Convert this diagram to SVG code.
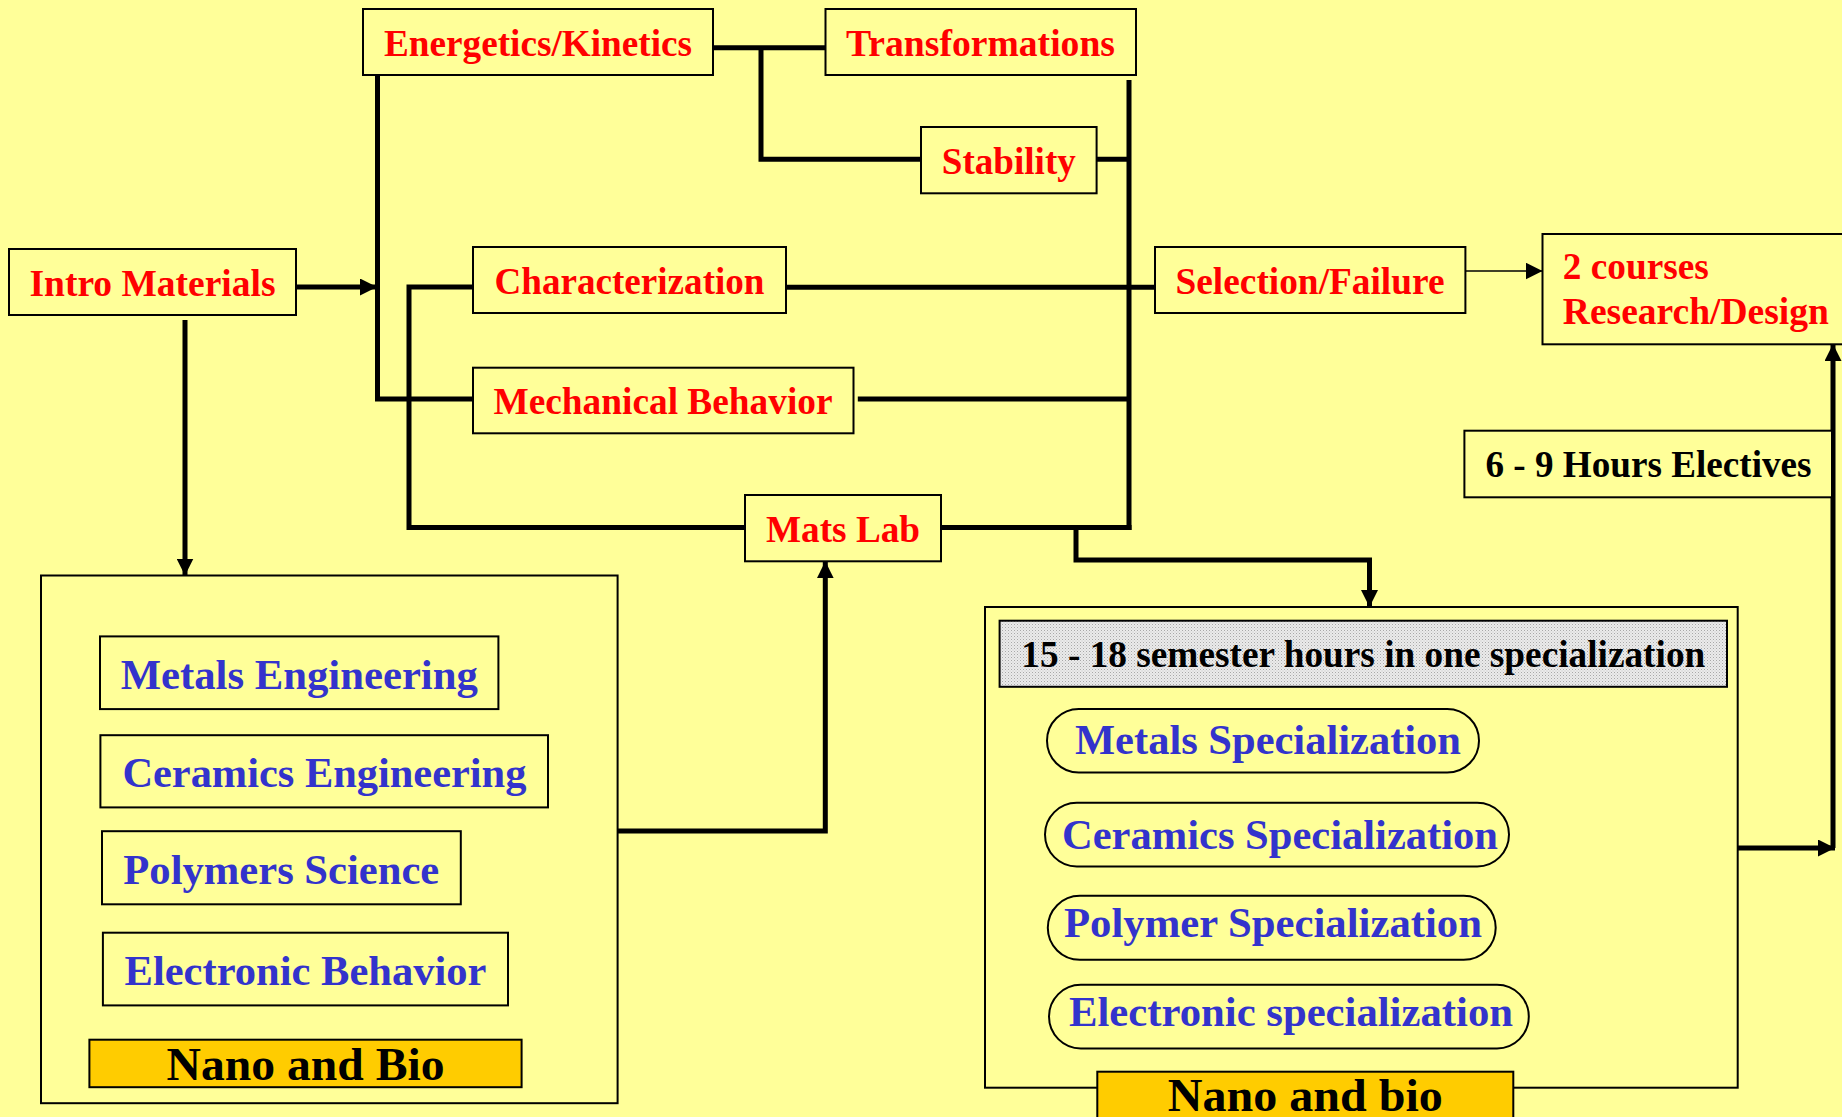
<svg xmlns="http://www.w3.org/2000/svg" width="1842" height="1117" viewBox="0 0 1842 1117">
<defs>
<style>
.bx{fill:#FFFF99;stroke:#000;stroke-width:2}
.gold{fill:#FFCC00;stroke:#000;stroke-width:2}
.hdr{fill:url(#dots);stroke:#000;stroke-width:2}
.t{font-family:"Liberation Serif","Times New Roman",serif;font-weight:bold}
.r{fill:#FF0000;font-size:38px}
.b{fill:#3333CC;font-size:43px}
.k{fill:#000;font-size:37px}
.n{fill:#000;font-size:47px}
.c{text-anchor:middle}
.ln{fill:none;stroke:#000;stroke-width:5;stroke-linejoin:miter}
.thin{fill:none;stroke:#000;stroke-width:1.5}
</style>
<marker id="ah" markerUnits="userSpaceOnUse" markerWidth="17" markerHeight="17" refX="17" refY="8.5" orient="auto" viewBox="0 0 17 17"><path d="M0,0 L17,8.5 L0,17 z" fill="#000"/></marker>
<pattern id="dots" width="3" height="3" patternUnits="userSpaceOnUse"><rect width="3" height="3" fill="#EBEBEB"/><rect width="1" height="1" fill="#A8A8A8"/><rect x="1.5" y="1.5" width="1" height="1" fill="#C4C4C4"/></pattern>
</defs>
<rect width="1842" height="1117" fill="#FFFF99"/>

<g id="connectors">
<path class="ln" d="M297,287 H377" marker-end="url(#ah)"/>
<path class="ln" d="M377.5,74 V399 H473"/>
<path class="ln" d="M473,287 H409 V527.5 H745"/>
<path class="ln" d="M713,47.7 H825"/>
<path class="ln" d="M761,47.7 V159.3 H921"/>
<path class="ln" d="M1129,80 V530"/>
<path class="ln" d="M1096.6,159.3 H1129"/>
<path class="ln" d="M786,287.3 H1155"/>
<path class="ln" d="M857.8,399 H1129"/>
<path class="ln" d="M941,527.5 H1131.5"/>
<path class="ln" d="M1076,527.5 V560 H1369.5 V607" marker-end="url(#ah)"/>
<path class="thin" d="M1465,271 H1542.5" marker-end="url(#ah)"/>
<path class="ln" d="M617.6,831 H825.3 V561.3" marker-end="url(#ah)"/>
<path class="ln" d="M185,320 V575.5" marker-end="url(#ah)"/>
<path class="ln" d="M1737.7,848 H1835" marker-end="url(#ah)"/>
<path class="ln" d="M1833,848 V344" marker-end="url(#ah)"/>
</g>

<g id="energetics"><rect class="bx" x="363" y="9" width="350" height="66"/><text class="t r c" x="538" y="56" textLength="308" lengthAdjust="spacingAndGlyphs">Energetics/Kinetics</text></g>
<g id="transformations"><rect class="bx" x="825.5" y="9" width="310.5" height="66"/><text class="t r c" x="980.5" y="56" textLength="269" lengthAdjust="spacingAndGlyphs">Transformations</text></g>
<g id="stability"><rect class="bx" x="921" y="127" width="175.6" height="66.3"/><text class="t r c" x="1008.8" y="174" textLength="134" lengthAdjust="spacingAndGlyphs">Stability</text></g>
<g id="intro"><rect class="bx" x="9" y="249" width="287" height="66"/><text class="t r c" x="152.5" y="296" textLength="246" lengthAdjust="spacingAndGlyphs">Intro Materials</text></g>
<g id="characterization"><rect class="bx" x="473" y="247" width="313" height="66"/><text class="t r c" x="629.5" y="294" textLength="270" lengthAdjust="spacingAndGlyphs">Characterization</text></g>
<g id="mechanical"><rect class="bx" x="473" y="367.7" width="380.5" height="65.6"/><text class="t r c" x="663" y="414" textLength="339" lengthAdjust="spacingAndGlyphs">Mechanical Behavior</text></g>
<g id="matslab"><rect class="bx" x="745" y="495" width="196" height="66.3"/><text class="t r c" x="843" y="542" textLength="154" lengthAdjust="spacingAndGlyphs">Mats Lab</text></g>
<g id="selection"><rect class="bx" x="1155" y="247" width="310.4" height="66"/><text class="t r c" x="1310" y="293.5" textLength="269" lengthAdjust="spacingAndGlyphs">Selection/Failure</text></g>
<g id="research"><rect class="bx" x="1542.5" y="234" width="310" height="110.3"/><text class="t r" x="1562.8" y="279.3" textLength="146" lengthAdjust="spacingAndGlyphs">2 courses</text><text class="t r" x="1562.8" y="324" textLength="266" lengthAdjust="spacingAndGlyphs">Research/Design</text></g>
<g id="electives"><rect class="bx" x="1464.4" y="430.7" width="367.6" height="66.6"/><text class="t k c" x="1648.5" y="477.3" textLength="326" lengthAdjust="spacingAndGlyphs">6 - 9 Hours Electives</text></g>

<g id="core-group">
<rect class="bx" x="41" y="575.5" width="576.6" height="527.7"/>
<g id="metals-eng"><rect class="bx" x="100" y="636.4" width="398.4" height="72.7"/><text class="t b" x="120.8" y="689" textLength="357" lengthAdjust="spacingAndGlyphs">Metals Engineering</text></g>
<g id="ceramics-eng"><rect class="bx" x="100.4" y="735.2" width="447.6" height="72.2"/><text class="t b" x="122.4" y="787.3" textLength="404" lengthAdjust="spacingAndGlyphs">Ceramics Engineering</text></g>
<g id="polymers-sci"><rect class="bx" x="102" y="831.2" width="358.8" height="73.1"/><text class="t b" x="123.3" y="883.5" textLength="316" lengthAdjust="spacingAndGlyphs">Polymers Science</text></g>
<g id="electronic-beh"><rect class="bx" x="102.9" y="932.7" width="405.1" height="72.7"/><text class="t b" x="124.5" y="984.5" textLength="362" lengthAdjust="spacingAndGlyphs">Electronic Behavior</text></g>
<g id="nano-left"><rect class="gold" x="89.4" y="1039.7" width="432.2" height="47.5"/><text class="t n c" x="305.5" y="1080.4" textLength="278" lengthAdjust="spacingAndGlyphs">Nano and Bio</text></g>
</g>

<g id="spec-group">
<rect class="bx" x="985" y="607" width="752.7" height="480.7"/>
<g id="spec-header"><rect class="hdr" x="999.6" y="620.7" width="727.4" height="66.1"/><text class="t k c" x="1363.3" y="666.6" textLength="684" lengthAdjust="spacingAndGlyphs">15 - 18 semester hours in one specialization</text></g>
<g id="metals-spec"><rect class="bx" x="1047" y="709" width="432" height="63.6" rx="31.8"/><text class="t b" x="1075" y="753.6" textLength="386" lengthAdjust="spacingAndGlyphs">Metals Specialization</text></g>
<g id="ceramics-spec"><rect class="bx" x="1045" y="802.8" width="464" height="63.6" rx="31.8"/><text class="t b" x="1062" y="848.8" textLength="436" lengthAdjust="spacingAndGlyphs">Ceramics Specialization</text></g>
<g id="polymer-spec"><rect class="bx" x="1047.8" y="895.8" width="447.9" height="64" rx="32"/><text class="t b" x="1064" y="937.3" textLength="418" lengthAdjust="spacingAndGlyphs">Polymer Specialization</text></g>
<g id="electronic-spec"><rect class="bx" x="1049" y="984.8" width="479.8" height="63.6" rx="31.8"/><text class="t b" x="1069" y="1026" textLength="444" lengthAdjust="spacingAndGlyphs">Electronic specialization</text></g>
<g id="nano-right"><rect class="gold" x="1097.3" y="1071.7" width="416" height="60"/><text class="t n c" x="1305.3" y="1111" textLength="275" lengthAdjust="spacingAndGlyphs">Nano and bio</text></g>
</g>
</svg>
